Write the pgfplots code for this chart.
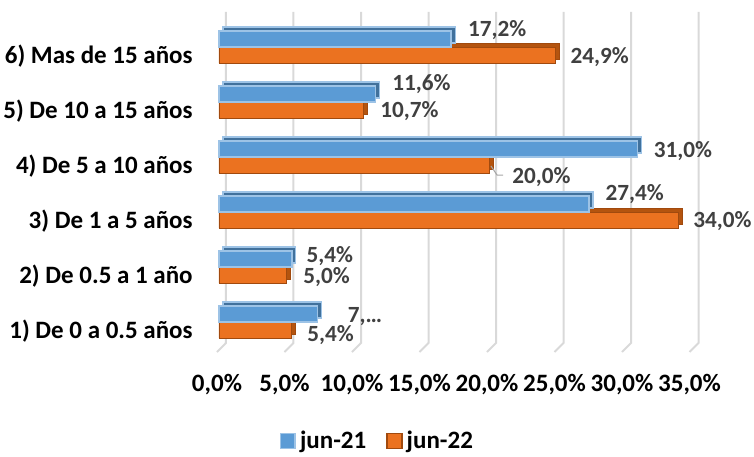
\documentclass[border=0pt]{standalone}
\usepackage{fontspec}
\setmainfont{Carlito}
\usepackage{pgfplots}
\usepackage{pgfplotstable}
\pgfplotsset{compat=1.18}

\definecolor{azul}{HTML}{5B9BD5}
\definecolor{azulborde}{HTML}{9DC3E6}
\definecolor{azulfondo}{HTML}{41719C}
\definecolor{naranja}{HTML}{EB7220}
\definecolor{naranjaborde}{HTML}{A14A0E}
\definecolor{naranjafondo}{HTML}{B4540F}
\definecolor{rejilla}{HTML}{D9D9D9}
\definecolor{etiqueta}{HTML}{404040}

\newcommand\lblfont{\fontsize{12.5pt}{15pt}\selectfont\bfseries}
\newcommand\datfont{\fontsize{11.6pt}{14pt}\selectfont\bfseries}

% y = categoria, v = porcentaje, dx/dy = ajuste de la etiqueta (pt)
\pgfplotstableread{
y v dx dy lab
1 7.3 14.75 -4 7,\ldots
2 5.4 7 -1.75 5,4\%
3 27.4 8 1.75 27,4\%
4 31.0 7.75 -4.25 31,0\%
5 11.6 8 1.75 11,6\%
6 17.2 8 1.5 17,2\%
}\junA

\pgfplotstableread{
y v dx dy lab
1 5.4 7.5 -5.75 5,4\%
2 5.0 8.25 -4.25 5,0\%
3 34.0 7.5 -3.5 34,0\%
4 20.0 11.5 -9.25 20,0\%
5 10.7 8.25 -3.5 10,7\%
6 24.9 7.5 -4 24,9\%
}\junB

\begin{document}
\begin{tikzpicture}
\path[use as bounding box] (-106.125pt,-53.25pt) rectangle (270.875pt,174.75pt);
\begin{axis}[
    at={(0,0)}, anchor=south west,
    scale only axis,
    width=239.625pt, height=165pt,
    xmin=-0.5, xmax=35, ymin=0.5, ymax=6.5,
    xbar, bar width=8pt,
    clip=false,
    axis line style={draw=none},
    major tick length=0pt,
    xtick={0,5,10,15,20,25,30,35},
    xticklabels={{0,0\%},{5,0\%},{10,0\%},{15,0\%},{20,0\%},{25,0\%},{30,0\%},{35,0\%}},
    xticklabel style={font=\lblfont, anchor=base, inner sep=0pt, xshift=-1pt, yshift=-20.75pt},
    ytick={1,2,3,4,5,6},
    yticklabels={{1) De 0 a 0.5 años},{2) De 0.5 a 1 año},{3) De 1 a 5 años},{4) De 5 a 10 años},{5) De 10 a 15 años},{6) Mas de 15 años}},
    yticklabel style={font=\lblfont, anchor=base east, inner sep=0pt, xshift=-9.625pt, yshift=-8.3pt},
    legend style={at={(0.3465,-0.277)}, anchor=center, draw=none, fill=none,
        legend columns=2, font=\lblfont,
        /tikz/every even column/.append style={column sep=8pt}},
    legend image code/.code={\draw[#1, line width=0.8pt] (0pt,-3.7pt) rectangle (7.4pt,3.7pt);},
    etiquetas/.style={
        point meta=explicit symbolic,
        nodes near coords,
        visualization depends on={\thisrow{dx} \as \dx},
        visualization depends on={\thisrow{dy} \as \dy},
        nodes near coords style={anchor=base west, inner sep=0pt,
            font=\datfont, text=etiqueta, xshift=\dx pt, yshift=\dy pt},
    },
]
% rejilla con perspectiva
\pgfplotsinvokeforeach{0,5,10,15,20,25,30,35}{
    \draw[rejilla, line width=1pt]
        ([xshift=3.5pt]axis cs:#1,6.64) -- ([xshift=3.5pt]axis cs:#1,0.62)
        -- ([xshift=-1pt,yshift=-1.25pt]axis cs:#1,0.5);
}

\addlegendimage{fill=azul, draw=azulborde}
\addlegendentry{jun-21}
\addlegendimage{fill=naranja, draw=naranjaborde}
\addlegendentry{jun-22}

% jun-22 (fondo y frente)
\addplot[forget plot, bar shift=-4pt, xshift=2pt, yshift=2pt,
    fill=naranjafondo, draw=naranjaborde, line width=0.4pt]
    table[x=v, y=y] {\junB};
\addplot[forget plot, bar shift=-4pt, etiquetas,
    fill=naranja, draw=naranjaborde, line width=0.4pt]
    table[x=v, y=y, meta=lab] {\junB};

% jun-21 (fondo y frente)
\addplot[forget plot, bar shift=4pt, xshift=2pt, yshift=2pt,
    fill=azulfondo, draw=azulborde, line width=0.6pt]
    table[x=v, y=y] {\junA};
\addplot[forget plot, bar shift=4pt, etiquetas,
    fill=azul, draw=azulborde, line width=0.8pt]
    table[x=v, y=y, meta=lab] {\junA};

% linea guia de la etiqueta 20,0%
\draw[gray!70, line width=0.5pt]
    ([xshift=1pt,yshift=-4.5pt]axis cs:20,4) -- ([xshift=4pt,yshift=-9pt]axis cs:20,4)
    -- ([xshift=7pt,yshift=-9pt]axis cs:20,4);
\end{axis}
\end{tikzpicture}
\end{document}
